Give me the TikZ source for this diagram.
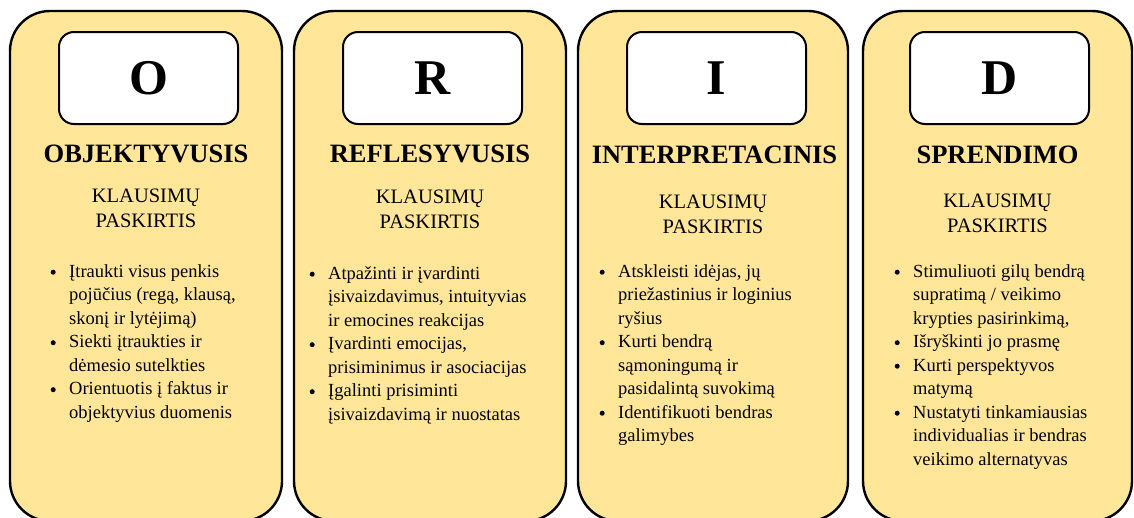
\documentclass[tikz,border=0pt]{standalone}
\usepackage{fontspec}
\setmainfont{Liberation Serif}
\definecolor{cardfill}{HTML}{FFE699}
\newcommand\ordbullet{\leavevmode\llap{\tikz[baseline=0pt]\fill[black] (0pt,4.8pt) circle (2.5pt);\hspace{13.5pt}}}
\newcommand\ordlist[1]{\parbox[t]{250pt}{\fontsize{18.5}{23.5}\selectfont\raggedright #1}}
\newcommand\ordsub[1]{\parbox[t]{250pt}{\fontsize{20.5}{25}\selectfont\centering #1}}
\tikzset{
  card/.style={draw=black, line width=2.4pt, fill=cardfill, rounded corners=40pt,
    minimum height=510pt, inner sep=0pt},
  letterbox/.style={draw=black, line width=2pt, fill=white, rounded corners=15pt,
    minimum width=179pt, minimum height=92pt, inner sep=0pt,
    font=\fontsize{50}{55}\selectfont\bfseries},
  cardtitle/.style={font=\fontsize{26.5}{30}\selectfont\bfseries, inner sep=0pt, anchor=base},
  subtitle/.style={inner sep=0pt, anchor=base},
  bullets/.style={inner sep=0pt, anchor=base west},
}
\begin{document}
\begin{tikzpicture}[x=1pt,y=-1pt]
\useasboundingbox (0,0) rectangle (1134,517);
% cards
\node[card, minimum width=272pt] (c1) at (146,266) {};
\node[card, minimum width=272pt] (c2) at (430,266) {};
\node[card, minimum width=270pt] (c3) at (713,266) {};
\node[card, minimum width=269pt] (c4) at (997.5,266) {};
% letters
\node[letterbox] (l1) at (148.5,78) {O};
\node[letterbox] (l2) at (432.5,78) {R};
\node[letterbox] (l3) at (716.5,78) {I};
\node[letterbox] (l4) at (999.5,78) {D};
% titles
\node[cardtitle] (t1) at (146,162) {OBJEKTYVUSIS};
\node[cardtitle] (t2) at (430,162) {REFLESYVUSIS};
\node[cardtitle] (t3) at (714.5,163) {INTERPRETACINIS};
\node[cardtitle] (t4) at (997.5,163) {SPRENDIMO};
% subtitles
\node[subtitle] (s1) at (146,202) {\ordsub{KLAUSIMŲ\\PASKIRTIS}};
\node[subtitle] (s2) at (430,203) {\ordsub{KLAUSIMŲ\\PASKIRTIS}};
\node[subtitle] (s3) at (713,208) {\ordsub{KLAUSIMŲ\\PASKIRTIS}};
\node[subtitle] (s4) at (997.5,207) {\ordsub{KLAUSIMŲ\\PASKIRTIS}};
% bullet lists
\node[bullets] (b1) at (69,277) {\ordlist{%
\ordbullet Įtraukti visus penkis\\
pojūčius (regą, klausą,\\
skonį ir lytėjimą)\\
\ordbullet Siekti įtraukties ir\\
dėmesio sutelkties\\
\ordbullet Orientuotis į faktus ir\\
objektyvius duomenis}};
\node[bullets] (b2) at (328,279) {\ordlist{%
\ordbullet Atpažinti ir įvardinti\\
įsivaizdavimus, intuityvias\\
ir emocines reakcijas\\
\ordbullet Įvardinti emocijas,\\
prisiminimus ir asociacijas\\
\ordbullet Įgalinti prisiminti\\
įsivaizdavimą ir nuostatas}};
\node[bullets] (b3) at (618,277) {\ordlist{%
\ordbullet Atskleisti idėjas, jų\\
priežastinius ir loginius\\
ryšius\\
\ordbullet Kurti bendrą\\
sąmoningumą ir\\
pasidalintą suvokimą\\
\ordbullet Identifikuoti bendras\\
galimybes}};
\node[bullets] (b4) at (913,277) {\ordlist{%
\ordbullet Stimuliuoti gilų bendrą\\
supratimą / veikimo\\
krypties pasirinkimą,\\
\ordbullet Išryškinti jo prasmę\\
\ordbullet Kurti perspektyvos\\
matymą\\
\ordbullet Nustatyti tinkamiausias\\
individualias ir bendras\\
veikimo alternatyvas}};
\end{tikzpicture}
\end{document}
